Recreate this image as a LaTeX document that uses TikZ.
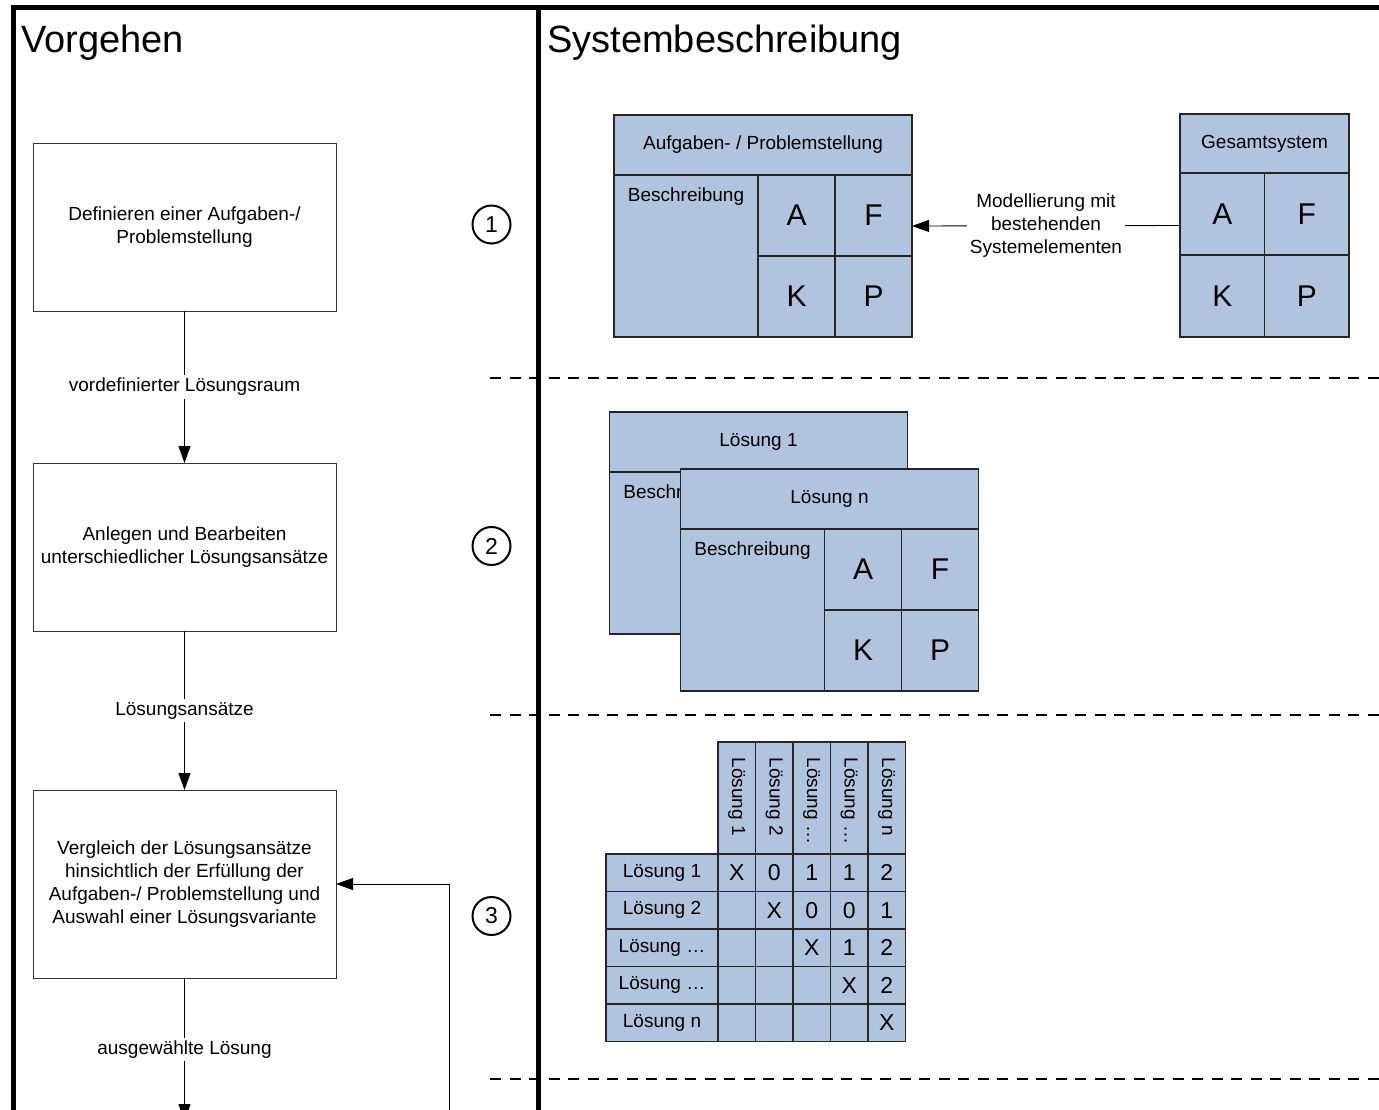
\documentclass[tikz,border=0pt]{standalone}
\usepackage{fontspec}
\setmainfont{Liberation Sans}
\usetikzlibrary{calc,arrows.meta,positioning}
\definecolor{sysblau}{RGB}{176,196,222}

% block with header, description and the four cells A F K P
\newcommand{\sysblock}[3]{%
  \node at (#2) (#1k)[feld,minimum width=298pt,minimum height=60pt] {#3};
  \node at (#1k.south west) (#1b)[feld,minimum width=144pt,minimum height=162pt,
    label={[anchor=north,yshift=-9pt]north:Beschreibung}] {};
  \node at (#1b.north east) (#1a)[buchst] {A};
  \node at (#1a.north east) (#1f)[buchst] {F};
  \node at (#1a.south west) (#1kk)[buchst] {K};
  \node at (#1kk.north east) (#1p)[buchst] {P};
}

\begin{document}
\begin{tikzpicture}[x=1pt,y=-1pt,
  every node/.style={font=\fontsize{19}{23}\selectfont},
  rahmen/.style={line width=5pt,line join=miter},
  schritt/.style={draw=black!80,line width=1pt,minimum width=303pt,minimum height=168pt,
    align=center,inner sep=0pt,outer sep=0pt},
  pfeil/.style={-{Triangle[length=17pt,width=12pt]},line width=0.9pt},
  lbl/.style={fill=white,inner sep=3pt},
  trenn/.style={dash pattern=on 11pt off 8.5pt,line width=1.5pt},
  nr/.style={draw,circle,line width=2pt,minimum size=38pt,inner sep=0pt,
    font=\fontsize{23}{23}\selectfont},
  feld/.style={draw=black!85,fill=sysblau,line width=1.2pt,inner sep=0pt,outer sep=0pt,
    anchor=north west},
  buchst/.style={feld,minimum width=77pt,minimum height=81pt,font=\fontsize{30}{30}\selectfont},
]
\useasboundingbox (0,0) rectangle (1379,1109);

% frame
\draw[rahmen] (13,1120) -- (13,7.5) -- (1390,7.5);
\draw[rahmen] (538.5,7.5) -- (538.5,1120);
\node at (21,52) (t1)[anchor=base west,inner sep=0pt,font=\fontsize{38}{38}\selectfont] {Vorgehen};
\node at (547,52) (t2)[anchor=base west,inner sep=0pt,font=\fontsize{38}{38}\selectfont] {Systembeschreibung};

% separators
\draw[trenn] (490,378) -- (1390,378);
\draw[trenn] (490,715) -- (1390,715);
\draw[trenn] (490,1079) -- (1390,1079);

% Vorgehen
\node at (184.5,227) (v1)[schritt] {Definieren einer Aufgaben-/\\Problemstellung};
\node at (184.5,547) (v2)[schritt] {Anlegen und Bearbeiten\\unterschiedlicher Lösungsansätze};
\node at (184.5,884) (v3)[schritt,minimum height=188pt] {Vergleich der Lösungsansätze\\hinsichtlich der Erfüllung der\\Aufgaben-/ Problemstellung und\\Auswahl einer Lösungsvariante};
\coordinate (v4) at (184.5,1121);
\coordinate (rueck) at (449,1130);

\draw[pfeil] (v1) -- node[lbl]{vordefinierter Lösungsraum} (v2);
\draw[pfeil] (v2) -- node[lbl]{Lösungsansätze} (v3);
\draw[pfeil] (v3) -- node[lbl]{ausgewählte Lösung} (v4);
\draw[pfeil] (rueck) |- (v3.east);

% step numbers
\node at (491.5,224.5) (n1)[nr] {1};
\node at (491.5,546) (n2)[nr] {2};
\node at (491.5,916) (n3)[nr] {3};

% step 1
\sysblock{ap}{614,115}{Aufgaben- / Problemstellung}
\node at (1180,114) (gsk)[feld,minimum width=169pt,minimum height=59pt] {Gesamtsystem};
\node at (gsk.south west) (gsa)[buchst,minimum width=84.5pt,minimum height=82pt] {A};
\node at (gsa.north east) (gsf)[buchst,minimum width=84.5pt,minimum height=82pt] {F};
\node at (gsa.south west) (gskk)[buchst,minimum width=84.5pt,minimum height=82pt] {K};
\node at (gskk.north east) (gsp)[buchst,minimum width=84.5pt,minimum height=82pt] {P};
\draw[pfeil] ($(gsk.north west)!0.5!(gskk.south west)$) --
  node[lbl,align=center]{Modellierung mit\\bestehenden\\Systemelementen}
  ($(apk.north east)!0.5!(app.south east)$);

% step 2 (back block is hidden apart from its left edge)
\node at (609.5,412) (lak)[feld,minimum width=298pt,minimum height=60pt] {Lösung 1};
\node at (lak.south west) (lab)[feld,minimum width=144pt,minimum height=162pt,
  label={[anchor=north,yshift=-9pt]north:Beschreibung}] {};
\node at (lab.north east) (lar)[feld,minimum width=154pt,minimum height=162pt] {};
\sysblock{ln}{680.5,469}{Lösung n}

% step 3
\foreach \txt [count=\c] in {Lösung 1,Lösung 2,Lösung …,Lösung …,Lösung n}{
  \node at ({718+(\c-1)*37.5},742) (mh\c)[feld,minimum width=37.5pt,minimum height=112pt] {};
  \node at ({718+(\c-0.5)*37.5},754) (mt\c)[rotate=-90,anchor=west] {\txt};
}
\foreach \txt [count=\r] in {Lösung 1,Lösung 2,Lösung …,Lösung …,Lösung n}{
  \node at (606,{854+(\r-1)*37.5}) (mz\r)[feld,minimum width=112pt,minimum height=37.5pt] {\txt};
  \foreach \c in {1,...,5}
    \node at ({718+(\c-1)*37.5},{854+(\r-1)*37.5}) (m\r\c)[feld,minimum width=37.5pt,minimum height=37.5pt] {};
}
\foreach \r/\c/\w in {1/1/X,1/2/0,1/3/1,1/4/1,1/5/2,2/2/X,2/3/0,2/4/0,2/5/1,
    3/3/X,3/4/1,3/5/2,4/4/X,4/5/2,5/5/X}
  \node at (m\r\c) (w\r\c)[font=\fontsize{23}{23}\selectfont] {\w};
\end{tikzpicture}
\end{document}
